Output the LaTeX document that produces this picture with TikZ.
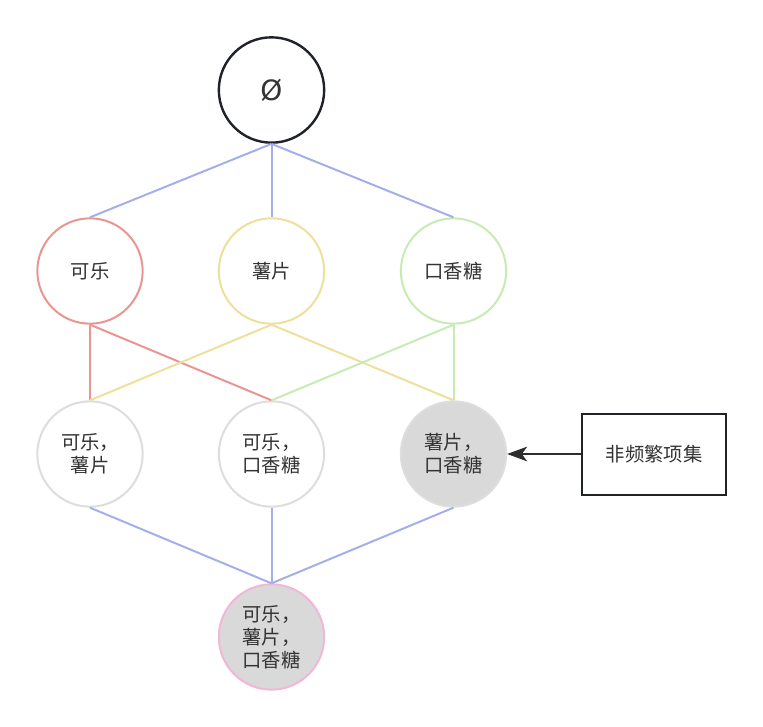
\documentclass[tikz,border=0pt]{standalone}
\usepackage{fontspec}
\setmainfont{Noto Sans CJK SC}
\newfontfamily\symfont{DejaVu Sans}
\usetikzlibrary{arrows.meta}
\definecolor{edgeblue}{HTML}{A6AEEA}
\definecolor{colared}{HTML}{EA9690}
\definecolor{chipyellow}{HTML}{EEE09C}
\definecolor{gumgreen}{HTML}{C8EBB4}
\definecolor{pairgray}{HTML}{DDDDDD}
\definecolor{allpink}{HTML}{F2B6D6}
\definecolor{infill}{HTML}{D9D9D9}
\definecolor{darkline}{HTML}{1F2328}
\definecolor{txt}{HTML}{333333}
\tikzset{
  set node/.style={
    circle, line width=1.5pt, fill=white,
    minimum size=79pt, inner sep=0pt,
    align=center, text=txt, font=\fontsize{14.5}{17.3}\selectfont
  },
  set edge/.style={line width=1.5pt},
  note box/.style={
    rectangle, draw=darkline, line width=1.5pt, fill=white,
    minimum width=108pt, minimum height=60.75pt,
    text=txt, font=\fontsize{14.5}{17.3}\selectfont
  },
  note arrow/.style={
    -{Stealth[length=15pt, width=11pt, inset=4pt]}, line width=1.5pt, draw=txt!90!black
  }
}
\begin{document}
\begin{tikzpicture}[x=0.75pt, y=-0.75pt]
\useasboundingbox (0,0) rectangle (763,727);

% ====== LEVEL 0: empty set ======
\node[set node, draw=darkline, line width=1.8pt, font=\symfont\fontsize{21}{24}\selectfont] (empty) at (271.5,90) {Ø};

% ====== LEVEL 1: single items ======
\node[set node, draw=colared] (cola) at (90,271) {可乐};
\node[set node, draw=chipyellow] (chips) at (271.5,271) {薯片};
\node[set node, draw=gumgreen] (gum) at (453.5,271) {口香糖};

% ====== LEVEL 2: pairs ======
\node[set node, draw=pairgray] (colachips) at (90,454) {可乐，\\薯片};
\node[set node, draw=pairgray] (colagum) at (271.5,454) {可乐，\\口香糖};
\node[set node, draw=pairgray, fill=infill] (chipsgum) at (453.5,454) {薯片，\\口香糖};

% ====== LEVEL 3: all three ======
\node[set node, draw=allpink, fill=infill] (all) at (271.5,637) {可乐，\\薯片，\\口香糖};

% -- note --
\node[note box] (infreq) at (654,454) {非频繁项集};
\draw[note arrow] (infreq.west) -- (chipsgum.east);

% -- edges --
\draw[set edge, edgeblue] (empty.south) -- (cola.north);
\draw[set edge, edgeblue] (empty.south) -- (chips.north);
\draw[set edge, edgeblue] (empty.south) -- (gum.north);
\draw[set edge, colared] (cola.south) -- (colachips.north);
\draw[set edge, colared] (cola.south) -- (colagum.north);
\draw[set edge, chipyellow] (chips.south) -- (colachips.north);
\draw[set edge, chipyellow] (chips.south) -- (chipsgum.north);
\draw[set edge, gumgreen] (gum.south) -- (colagum.north);
\draw[set edge, gumgreen] (gum.south) -- (chipsgum.north);
\draw[set edge, edgeblue] (colachips.south) -- (all.north);
\draw[set edge, edgeblue] (colagum.south) -- (all.north);
\draw[set edge, edgeblue] (chipsgum.south) -- (all.north);

\end{tikzpicture}
\end{document}
